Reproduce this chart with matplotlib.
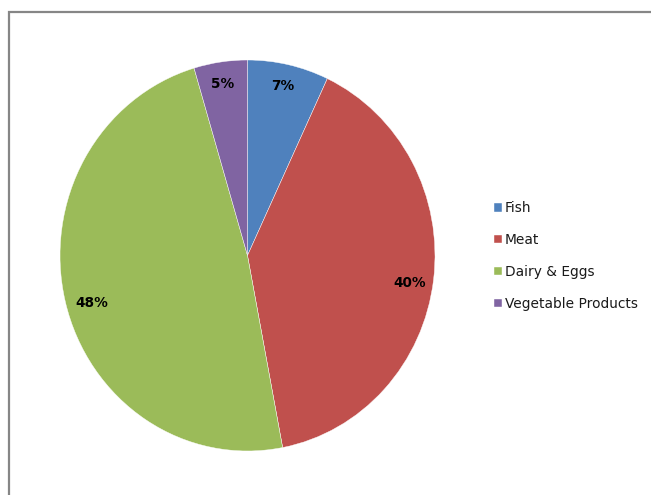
import matplotlib
matplotlib.use("Agg")
import matplotlib.pyplot as plt
from matplotlib.lines import Line2D

categories = ["Fish", "Meat", "Dairy & Eggs", "Vegetable Products"]
values = [7.0, 40.0, 48.4, 4.6]
colors = ["#4F81BD", "#C0504D", "#9BBB59", "#8064A2"]

W, H = 651, 495
fig = plt.figure(figsize=(W / 100, H / 100), dpi=100)
fig.patch.set_facecolor("white")
fig.patch.set_edgecolor("none")
fig.patch.set_linewidth(0)

# outer frame: left and top edges only (rest lies outside the image)
fig.add_artist(Line2D([8.5 / W, 8.5 / W, 1.05], [-0.05, (H - 11.5) / H, (H - 11.5) / H],
                      transform=fig.transFigure, color="#868686", linewidth=1.6,
                      solid_joinstyle="miter", clip_on=True))

ax = fig.add_axes([60 / W, (H - 451) / H, 375 / W, 391 / H])
wedges, texts, autotexts = ax.pie(
    values, colors=colors, startangle=90, counterclock=False,
    autopct="%.0f%%", pctdistance=0.88,
    wedgeprops=dict(linewidth=0.3, edgecolor="white"),
    textprops=dict(fontsize=9.8, fontweight="bold", color="black",
                   family="DejaVu Sans"))
ax.set_aspect("auto")
ax.set_xlim(-1, 1)
ax.set_ylim(-1, 1)

# small nudges (in pixels) to match the reference label placement
px_x, px_y = 2 / 375, 2 / 391
nudges = [(-1, 2), (-2, -6), (5, -7), (-1, 1)]
for t, (dx, dy) in zip(autotexts, nudges):
    x, y = t.get_position()
    t.set_position((x + dx * px_x, y + dy * px_y))

leg = fig.legend(wedges, categories, loc="center left",
                 bbox_to_anchor=(494 / W, (H - 256) / H),
                 frameon=False, borderpad=0, borderaxespad=0,
                 handlelength=0.58, handleheight=0.58, handletextpad=0.22,
                 labelspacing=1.3, prop=dict(family="DejaVu Sans", size=9.9))
for t in leg.get_texts():
    t.set_color("#1a1a1a")

fig.savefig("out.png", dpi=100)
